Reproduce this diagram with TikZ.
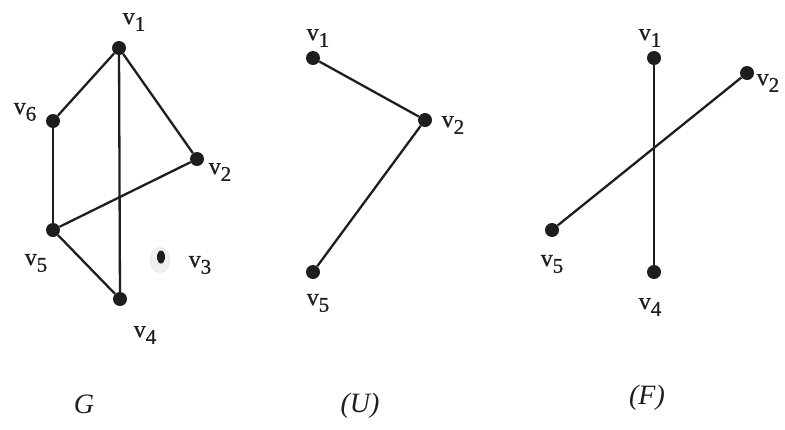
\documentclass[tikz,border=0pt]{standalone}
\usepackage{fontspec}
\setmainfont{Liberation Serif}
\newfontfamily\labfont{Liberation Serif}[FakeBold=0.8]
\usetikzlibrary{shapes.geometric}
\newcommand{\vlab}[1]{{\labfont\fontsize{24}{27}\selectfont v\raisebox{-0.28em}{\fontsize{21}{23}\selectfont #1}}}
\definecolor{ink}{HTML}{1E1E1E}
\begin{document}
\begin{tikzpicture}[x=1pt,y=-1pt,
  dot/.style={circle,fill=ink,inner sep=0pt,minimum size=14pt},
  edge/.style={draw=ink,line width=2.3pt},
  lab/.style={text=ink,inner sep=0pt,anchor=center},
  captxt/.style={text=ink,inner sep=0pt,font=\fontsize{28}{30}\selectfont\itshape}]
\useasboundingbox (0,0) rectangle (785,429);
% ---- G ----
\node[dot] (g1) at (119,48) {};
\node[dot] (g6) at (53,121) {};
\node[dot] (g2) at (197,159) {};
\node[dot] (g5) at (53,230) {};
\node[dot] (g4) at (120,299) {};
\node[ellipse,fill=gray!12,draw=gray!25,minimum width=20pt,minimum height=25pt,inner sep=0pt] (g3halo) at (160,260) {};
\node[ellipse,fill=ink,minimum width=8pt,minimum height=13pt,inner sep=0pt] (g3) at (161,257) {};
\draw[edge] (g1) -- (g6);
\draw[edge] (g1) -- (g4);
\draw[edge] (g1) -- (g2);
\draw[edge] (g6) -- (g5);
\draw[edge] (g5) -- (g2);
\draw[edge] (g5) -- (g4);
\node[lab] (lg1) at (134,22) {\vlab{1}};
\node[lab] (lg6) at (25,112) {\vlab{6}};
\node[lab] (lg2) at (220,172) {\vlab{2}};
\node[lab] (lg5) at (36,263) {\vlab{5}};
\node[lab] (lg3) at (200,265) {\vlab{3}};
\node[lab] (lg4) at (145,335) {\vlab{4}};
\node[captxt] (capG) at (84,404) {G};
% ---- U ----
\node[dot] (u1) at (313,58) {};
\node[dot] (u2) at (425,120) {};
\node[dot] (u5) at (313,272) {};
\draw[edge] (u1) -- (u2);
\draw[edge] (u2) -- (u5);
\node[lab] (lu1) at (318,38) {\vlab{1}};
\node[lab] (lu2) at (453,125) {\vlab{2}};
\node[lab] (lu5) at (318,303) {\vlab{5}};
\node[captxt] (capU) at (360,406) {(U)};
% ---- F ----
\node[dot] (f1) at (654,58) {};
\node[dot] (f2) at (747,73) {};
\node[dot] (f5) at (552,230) {};
\node[dot] (f4) at (654,272) {};
\draw[edge] (f1) -- (f4);
\draw[edge] (f2) -- (f5);
\node[lab] (lf1) at (650,38) {\vlab{1}};
\node[lab] (lf2) at (768,83) {\vlab{2}};
\node[lab] (lf5) at (552,264) {\vlab{5}};
\node[lab] (lf4) at (650,307) {\vlab{4}};
\node[captxt] (capF) at (647,398) {(F)};
\end{tikzpicture}
\end{document}
